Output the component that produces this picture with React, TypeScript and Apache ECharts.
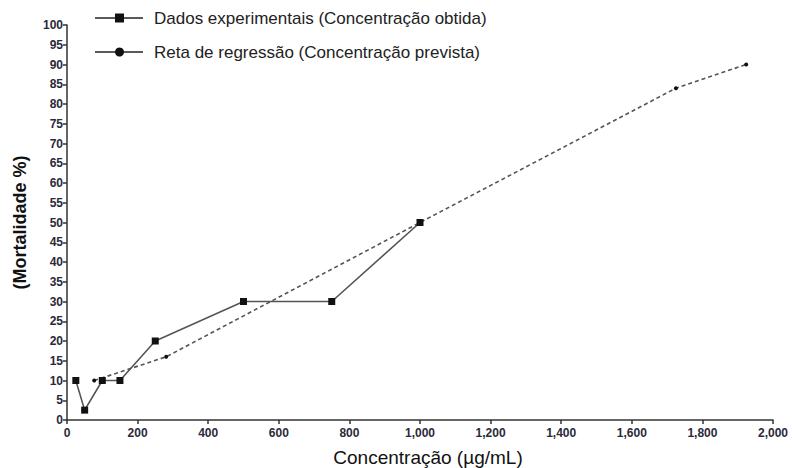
import React, { useEffect, useRef } from "react";
import * as echarts from "echarts";

const expConc = [25, 50, 100, 150, 250, 500, 750, 1000];
const expMort = [10, 2.5, 10, 10, 20, 30, 30, 50];
const regConc = [77, 281, 1000, 1725, 1924];
const regMort = [10, 16, 50, 84, 90];
const legendLabels = [
  "Dados experimentais (Concentração obtida)",
  "Reta de regressão (Concentração prevista)",
];
const xTitle = "Concentração (µg/mL)";
const yTitle = "(Mortalidade %)";

const FONT = "'Liberation Sans', Arial, sans-serif";

export default function App() {
  const ref = useRef<HTMLDivElement>(null);
  useEffect(() => {
    const chart = echarts.init(ref.current!, null, { renderer: "svg" });
    const expData = expConc.map((c, i) => [c, expMort[i]]);
    const regData = regConc.map((c, i) => [c, regMort[i]]);
    chart.setOption({
      animation: false,
      backgroundColor: "#ffffff",
      grid: { left: 67, right: 19, top: 25, bottom: 48, containLabel: false, outerBoundsMode: "none" },
      xAxis: {
        type: "value",
        min: 0,
        max: 2000,
        interval: 200,
        name: xTitle,
        nameLocation: "middle",
        nameGap: 28,
        nameTextStyle: { fontFamily: FONT, fontSize: 19, color: "#111", padding: [0, 0, 0, 16] },
        axisLine: { show: true, lineStyle: { color: "#333", width: 1.5 } },
        axisTick: { show: true, length: 4, lineStyle: { color: "#333", width: 1.5 } },
        splitLine: { show: false },
        axisLabel: {
          fontFamily: FONT,
          fontSize: 12,
          fontWeight: "bold",
          color: "#2a2a3a",
          margin: 7,
          formatter: (v: number) => v.toLocaleString("en-US"),
        },
      },
      yAxis: {
        type: "value",
        min: 0,
        max: 100,
        interval: 5,
        name: yTitle,
        nameLocation: "middle",
        nameGap: 38,
        nameRotate: 90,
        nameTextStyle: { fontFamily: FONT, fontSize: 18, fontWeight: "bold", color: "#111" },
        axisLine: { show: true, lineStyle: { color: "#333", width: 1.5 } },
        axisTick: { show: true, length: 4, lineStyle: { color: "#333", width: 1.5 } },
        splitLine: { show: false },
        axisLabel: {
          fontFamily: FONT,
          fontSize: 12,
          fontWeight: "bold",
          color: "#2a2a3a",
          margin: 4,
        },
      },
      series: [
        {
          name: legendLabels[0],
          type: "line",
          data: expData,
          symbol: "rect",
          symbolSize: 7,
          lineStyle: { color: "#555", width: 1.6 },
          itemStyle: { color: "#111" },
          z: 3,
        },
        {
          name: legendLabels[1],
          type: "line",
          data: regData,
          symbol: "circle",
          symbolSize: 4,
          lineStyle: { color: "#555", width: 1.6, type: [4, 3] },
          itemStyle: { color: "#111" },
          z: 2,
        },
      ],
      graphic: [
        { type: "line", shape: { x1: 95, y1: 18, x2: 143, y2: 18 }, style: { stroke: "#222", lineWidth: 1.5 } },
        { type: "rect", shape: { x: 115, y: 13.5, width: 9, height: 9 }, style: { fill: "#111" } },
        {
          type: "text",
          x: 154,
          y: 18,
          style: { text: legendLabels[0], fontFamily: FONT, fontSize: 17, fill: "#222", verticalAlign: "middle" },
        },
        { type: "line", shape: { x1: 95, y1: 52, x2: 143, y2: 52 }, style: { stroke: "#222", lineWidth: 1.5 } },
        { type: "circle", shape: { cx: 119.5, cy: 52, r: 4.5 }, style: { fill: "#111" } },
        {
          type: "text",
          x: 154,
          y: 52,
          style: { text: legendLabels[1], fontFamily: FONT, fontSize: 17, fill: "#222", verticalAlign: "middle" },
        },
      ],
    });
    return () => chart.dispose();
  }, []);
  return <div ref={ref} style={{ width: 792, height: 468, position: "absolute", left: 0, top: 0 }} />;
}
